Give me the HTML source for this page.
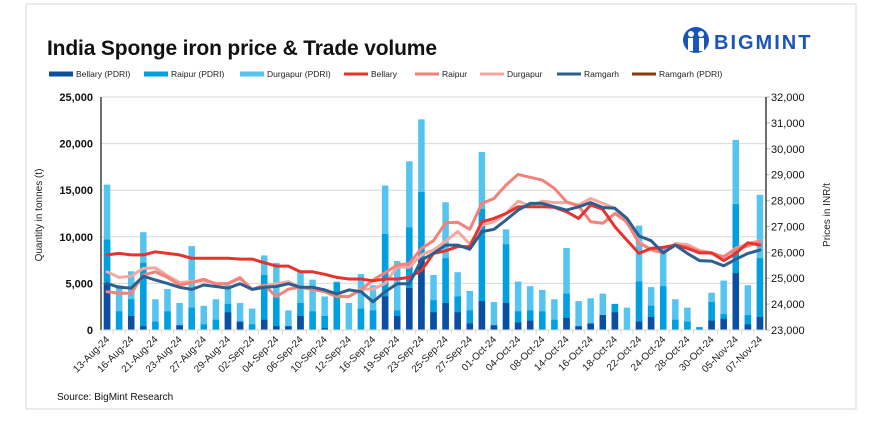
<!DOCTYPE html>
<html><head><meta charset="utf-8">
<style>
body{margin:0;background:#fff;font-family:"Liberation Sans",sans-serif;}
#wrap{position:relative;width:872px;height:434px;overflow:hidden;}
</style></head>
<body>
<div id="wrap">
<svg id="chart" width="872" height="434" xmlns="http://www.w3.org/2000/svg">
<rect x="26" y="4" width="830" height="405" fill="#fff" stroke="#d9d9d9" stroke-width="1"/>
<text x="47" y="55" font-size="21" font-weight="bold" fill="#111" style="font-family:'Liberation Sans Narrow','Liberation Sans',sans-serif" textLength="390">India Sponge iron price &amp; Trade volume</text>
<g>
<circle cx="696" cy="40" r="13" fill="#1a56b8"/>
<circle cx="691" cy="34" r="3" fill="#fff"/><circle cx="701" cy="34" r="3" fill="#fff"/>
<rect x="688" y="38" width="5" height="13" fill="#fff"/><rect x="699" y="38" width="5" height="13" fill="#fff"/>
<text x="714" y="49" font-size="20" font-weight="bold" fill="#1a56b8" letter-spacing="2">BIGMINT</text>
</g>
<g id="legend"></g>
<g id="grid"></g>
<g id="bars"></g>
<g id="lines"></g>
<g id="axes"></g>
<text x="42" y="215" font-size="10" fill="#222" transform="rotate(-90 42 215)" text-anchor="middle">Quantity in tonnes (t)</text>
<text x="830" y="215" font-size="10" fill="#222" transform="rotate(-90 830 215)" text-anchor="middle">Prices in INR/t</text>
<text x="57" y="400" font-size="10" fill="#111">Source: BigMint Research</text>
</svg>
</div>
<script>
const dates=["13-Aug-24","14-Aug-24","16-Aug-24","20-Aug-24","21-Aug-24","22-Aug-24","23-Aug-24","26-Aug-24","27-Aug-24","28-Aug-24","29-Aug-24","30-Aug-24","02-Sep-24","03-Sep-24","04-Sep-24","05-Sep-24","06-Sep-24","09-Sep-24","10-Sep-24","11-Sep-24","12-Sep-24","13-Sep-24","16-Sep-24","18-Sep-24","19-Sep-24","20-Sep-24","23-Sep-24","24-Sep-24","25-Sep-24","26-Sep-24","27-Sep-24","30-Sep-24","01-Oct-24","03-Oct-24","04-Oct-24","07-Oct-24","08-Oct-24","11-Oct-24","14-Oct-24","15-Oct-24","16-Oct-24","17-Oct-24","18-Oct-24","21-Oct-24","22-Oct-24","23-Oct-24","24-Oct-24","25-Oct-24","28-Oct-24","29-Oct-24","30-Oct-24","04-Nov-24","05-Nov-24","06-Nov-24","07-Nov-24"];
const durgapurPdri=[15.6,4.8,6.3,10.5,3.3,4.4,2.9,9.0,2.6,3.3,4.8,2.9,2.3,8.0,7.2,2.1,6.3,5.4,3.6,5.2,2.9,6.0,4.8,15.5,7.4,18.1,22.6,5.9,13.7,6.2,4.2,19.1,3.0,10.8,5.2,4.7,4.3,3.3,8.8,3.1,3.4,3.9,2.8,2.4,11.2,4.6,8.8,3.3,2.4,0.3,4.0,5.3,20.4,4.8,14.5].map(v=>v*1000);
const raipurPdri=[9.7,2.0,3.3,7.2,0.9,2.0,0.5,2.4,0.6,1.1,2.8,0.9,0.6,5.9,3.5,0.4,2.9,2.0,1.5,5.1,0,2.3,2.1,10.3,2.1,11.0,14.8,3.2,7.7,3.6,2.1,13.0,0.5,9.2,2.0,2.1,2.0,1.1,3.9,0.4,0.7,1.6,2.8,0,5.2,2.6,4.7,1.1,0.9,0.3,3.0,1.7,13.5,1.6,7.7].map(v=>v*1000);
const bellaryPdri=[5.0,0,1.5,0.4,0,0,0.5,0,0,0,1.9,0.9,0,1.1,0.4,0.4,1.5,0,0.2,0,0,0,0,3.6,1.5,4.5,7.7,1.9,2.9,1.9,0.7,3.1,0.5,2.9,0.8,1.0,0,0,1.3,0.4,0.7,1.6,1.9,0,0.9,1.4,0,0,0,0,1.0,1.2,6.1,0.6,1.4].map(v=>v*1000);
const bellary=[25.9,25.96,25.9,25.9,26.02,25.96,25.9,25.77,25.77,25.77,25.77,25.74,25.74,25.6,25.47,25.47,25.25,25.25,25.15,25.03,24.97,24.97,24.9,24.97,24.97,25.03,25.3,25.96,26.06,26.22,26.22,27.18,27.31,27.5,27.76,27.76,27.76,27.74,27.57,27.31,27.83,27.66,26.99,26.47,25.96,26.15,26.19,26.28,26.15,25.98,25.98,25.68,25.96,26.37,26.28].map(v=>v*1000);
const raipur=[24.48,24.42,24.42,25.12,25.25,25.03,24.74,24.83,24.96,24.78,24.78,25.0,24.57,24.74,24.29,24.58,24.65,24.57,24.48,24.29,24.29,24.55,24.93,25.21,25.51,25.57,26.15,26.45,27.14,27.16,26.89,27.89,28.08,28.6,29.01,28.9,28.79,28.47,27.95,27.79,27.18,27.12,27.5,27.18,26.35,26.12,25.98,26.28,26.22,26.02,25.96,25.83,26.12,26.25,26.41].map(v=>v*1000);
const durgapur=[25.25,25.03,25.08,25.38,25.4,25.1,24.83,24.87,24.9,24.8,24.8,25.03,24.57,24.7,24.78,24.87,24.65,24.57,24.48,24.32,24.29,24.58,24.58,24.8,25.44,25.42,25.9,26.09,26.43,26.8,26.32,27.05,27.18,27.5,27.98,27.79,27.98,27.92,27.92,27.83,28.08,27.89,27.7,27.12,26.41,26.09,25.98,26.34,26.3,26.08,25.98,25.83,26.15,26.34,26.44].map(v=>v*1000);
const ramgarh=[24.8,24.65,24.62,25.08,24.93,24.8,24.65,24.57,24.74,24.68,24.62,24.79,24.57,24.65,24.68,24.79,24.65,24.65,24.55,24.39,24.55,24.48,24.09,24.48,24.79,24.79,25.7,25.96,26.28,26.28,26.12,26.8,26.89,27.25,27.63,27.89,27.89,27.76,27.63,27.76,27.92,27.73,27.7,27.31,26.63,26.45,25.98,26.28,25.96,25.68,25.66,25.48,25.73,25.96,26.09].map(v=>v*1000);
const leftTicks=[0,5000,10000,15000,20000,25000];
const rightTicks=[23000,24000,25000,26000,27000,28000,29000,30000,31000,32000];

const NS="http://www.w3.org/2000/svg";
const X0=101,X1=766,YB=330,YT=97;
const n=dates.length,step=(X1-X0)/n;
const xC=i=>X0+(i+0.5)*step;
const yL=v=>YB-(v/25000)*(YB-YT);
const yR=v=>YB-((v-23000)/9000)*(YB-YT);
function mk(tag,attrs,parent){const e=document.createElementNS(NS,tag);for(const k in attrs)e.setAttribute(k,attrs[k]);parent.appendChild(e);return e;}
const grid=document.getElementById('grid'),bars=document.getElementById('bars'),lines=document.getElementById('lines'),axes=document.getElementById('axes'),legend=document.getElementById('legend');
leftTicks.forEach(t=>{
  if(t>0){const g=mk('line',{x1:X0,x2:X1,y1:yL(t),y2:yL(t),stroke:'#d9d9d9','stroke-width':1},grid);
  
  }
  const tx=mk('text',{x:X0-8,y:yL(t)+4,'text-anchor':'end','font-size':11,'font-weight':'bold',fill:'#111'},axes);
  tx.textContent=t.toLocaleString('en-US');
  
  
});
rightTicks.forEach(t=>{
  const tx=mk('text',{x:X1+5,y:yR(t)+4,'font-size':11,fill:'#111'},axes);
  tx.textContent=t.toLocaleString('en-US');
  
  
  const tk=mk('line',{x1:X1,x2:X1+4,y1:yR(t),y2:yR(t),stroke:'#bbb'},axes);
  
  
});
const bw=6.5;
const series=[[durgapurPdri,'#55c4f0','bar-durgapur-pdri'],[raipurPdri,'#00a0e0','bar-raipur-pdri'],[bellaryPdri,'#0b4ea2','bar-bellary-pdri']];
series.forEach(([arr,col,name])=>{
  arr.forEach((v,i)=>{if(v<=0)return;
    const r=mk('rect',{x:xC(i)-bw/2,y:yL(v),width:bw,height:YB-yL(v),fill:col},bars);
    
    
  });
});
const lineSeries=[[durgapur,'#f4a8a0','line-durgapur'],[raipur,'#f2827a','line-raipur'],[bellary,'#e8322e','line-bellary'],[ramgarh,'#2c5f8e','line-ramgarh']];
lineSeries.forEach(([arr,col,name])=>{
  const d=arr.map((v,i)=>(i?'L':'M')+xC(i).toFixed(1)+' '+yR(v).toFixed(1)).join(' ');
  const p=mk('path',{d:d,fill:'none',stroke:col,'stroke-width':3,'stroke-linejoin':'round','stroke-linecap':'round'},lines);
  
  
});
const la=mk('line',{x1:X0,x2:X0,y1:YT,y2:YB,stroke:'#111','stroke-width':1.2},axes);


const ra=mk('line',{x1:X1,x2:X1,y1:YT,y2:YB,stroke:'#111','stroke-width':1.2},axes);


const xa=mk('line',{x1:X0,x2:X1,y1:YB,y2:YB,stroke:'#d9d9d9'},axes);


dates.forEach((d,i)=>{
  const tk=mk('line',{x1:X0+i*step,x2:X0+i*step,y1:YB,y2:YB+4,stroke:'#d9d9d9'},axes);
  
  
  if(i%2)return;
  const x=xC(i)+3,y=YB+10;
  const t=mk('text',{x:x,y:y,'text-anchor':'end','font-size':10,fill:'#222',transform:`rotate(-45 ${x} ${y})`},axes);
  t.textContent=d;
  
  
});
const leg=[['Bellary (PDRI)','#0b4ea2',5],['Raipur (PDRI)','#00a0e0',5],['Durgapur (PDRI)','#55c4f0',5],['Bellary','#e8322e',3],['Raipur','#f2827a',3],['Durgapur','#f4a8a0',3],['Ramgarh','#2c5f8e',3],['Ramgarh (PDRI)','#8b3a0f',3]];
const legX=[49,144,240,344,415,480,557,632];
leg.forEach(([lab,col,h],i)=>{
  const g=mk('g',{},legend);
  
  
  mk('rect',{x:legX[i],y:74-h/2,width:24,height:h,fill:col},g);
  const t=mk('text',{x:legX[i]+27,y:77,'font-size':8.5,fill:'#222'},g);
  t.textContent=lab;
});
</script>
</body></html>
